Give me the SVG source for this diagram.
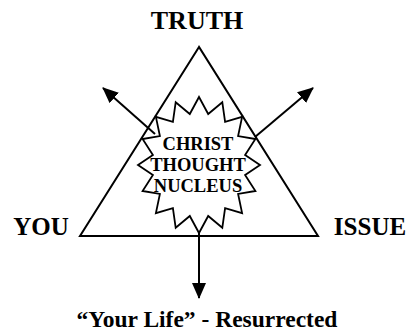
<svg xmlns="http://www.w3.org/2000/svg" width="409" height="333" viewBox="0 0 409 333">
  <style>
    .lbl { font-family: "Liberation Serif", "Times New Roman", serif; font-weight: bold; fill: #000; text-anchor: middle; }
    .big { font-size: 25px; }
    .core { font-size: 18.5px; }
    .shape { fill: none; stroke: #000; stroke-width: 2; }
    .conn { stroke: #000; stroke-width: 2; fill: none; marker-end: url(#ah); }
  </style>
  <defs>
    <marker id="ah" viewBox="0 0 16 14" refX="15" refY="7" markerWidth="16" markerHeight="14" markerUnits="userSpaceOnUse" orient="auto">
      <path d="M0,0 L16,7 L0,14 Z" fill="#000"/>
    </marker>
  </defs>
  <rect width="409" height="333" fill="#fff"/>

  <g id="triangle">
    <polygon class="shape" points="199,47 80,236 318,236"/>
  </g>

  <g id="connectors">
    <line class="conn" x1="155" y1="134" x2="103" y2="88"/>
    <line class="conn" x1="255" y1="137" x2="313" y2="88"/>
    <line class="conn" x1="199" y1="233" x2="199" y2="298"/>
  </g>

  <g id="nucleus">
    <polygon fill="#fff" stroke="#000" stroke-width="1.8" points="199,97 208.2,114 222.3,102.2 225.1,121.8 242.1,116.9 238.1,136.1 255.4,139 245.1,154.9 260,165 245.1,175.1 255.4,191 238.1,193.9 242.1,213.1 225.1,208.2 222.3,227.8 208.2,216 199,233 189.8,216 175.7,227.8 172.9,208.2 155.9,213.1 159.9,193.9 142.6,191 152.9,175.1 138,165 152.9,154.9 142.6,139 159.9,136.1 155.9,116.9 172.9,121.8 175.7,102.2 189.8,114"/>
    <text class="lbl core" x="198" y="149.5">CHRIST</text>
    <text class="lbl core" x="198" y="170.5">THOUGHT</text>
    <text class="lbl core" x="198" y="191.5">NUCLEUS</text>
  </g>

  <g id="truth">
    <text class="lbl" style="font-size:26px" x="197" y="29">TRUTH</text>
  </g>
  <g id="you">
    <text class="lbl big" x="41" y="235">YOU</text>
  </g>
  <g id="issue">
    <text class="lbl big" x="370" y="235">ISSUE</text>
  </g>
  <g id="life">
    <text class="lbl" style="font-size:23.5px" x="207" y="327">“Your Life” - Resurrected</text>
  </g>
</svg>
